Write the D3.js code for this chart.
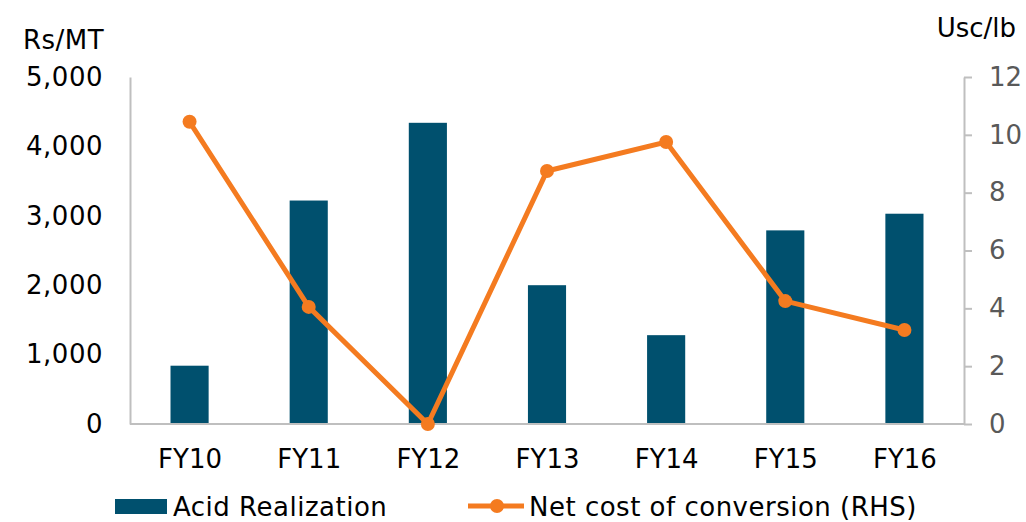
<!DOCTYPE html>
<html><head><meta charset="utf-8">
<script src="https://d3js.org/d3.v7.min.js"></script>
<style>body{margin:0;background:#fff;} svg{display:block;}</style>
</head><body>
<svg id="c" width="1026" height="522"></svg>
<script>
const categories = ["FY10","FY11","FY12","FY13","FY14","FY15","FY16"];
const acidRealization = [840, 3220, 4340, 2000, 1280, 2790, 3030];
const netCost = [10.45, 4.05, 0, 8.75, 9.75, 4.25, 3.25];
const leftTicks = [0, 1000, 2000, 3000, 4000, 5000];
const rightTicks = [0, 2, 4, 6, 8, 10, 12];

const svg = d3.select("#c");
const font = "'DejaVu Sans', Verdana, sans-serif";
const L = 130, R = 964, T = 77, B = 424;
const x = d3.scaleBand().domain(categories).range([L, R]).paddingInner(0.68).paddingOuter(0.34);
const xc = d3.scalePoint().domain(categories).range([L, R]).padding(0.5);
const yL = d3.scaleLinear().domain([0, 5000]).range([B, T]);
const yR = d3.scaleLinear().domain([0, 12]).range([B, T]);
const axisCol = "#BFBFBF";

// bars
svg.append("g").selectAll("rect").data(categories).join("rect")
  .attr("x", d => x(d)).attr("width", x.bandwidth())
  .attr("y", (d,i) => yL(acidRealization[i]))
  .attr("height", (d,i) => B - yL(acidRealization[i]))
  .attr("fill", "#00506E");

// left axis
const gl = svg.append("g").attr("transform", `translate(${L},0)`)
  .call(d3.axisLeft(yL).tickValues(leftTicks).tickSize(0).tickPadding(27).tickFormat(d3.format(",")));
gl.select(".domain").attr("stroke", axisCol).attr("stroke-width", 2);
gl.selectAll("text").attr("font-family", font).attr("font-size", 26).attr("letter-spacing", 0.5).attr("fill", "#000");

// right axis
const gr = svg.append("g").attr("transform", `translate(${R},0)`)
  .call(d3.axisRight(yR).tickValues(rightTicks).tickSize(8).tickSizeOuter(0).tickPadding(17));
gr.select(".domain").attr("stroke", axisCol).attr("stroke-width", 2);
gr.selectAll(".tick line").attr("stroke", axisCol).attr("stroke-width", 2);
gr.selectAll("text").attr("font-family", font).attr("font-size", 26).attr("fill", "#595959");

// bottom axis
const gb = svg.append("g").attr("transform", `translate(0,${B})`)
  .call(d3.axisBottom(xc).tickSize(0).tickPadding(26));
gb.select(".domain").attr("stroke", axisCol).attr("stroke-width", 2).attr("d", `M${L},0H${R}`);
gb.selectAll("text").attr("font-family", font).attr("font-size", 26).attr("fill", "#000");

// line
const orange = "#F47B20";
svg.append("path").datum(categories)
  .attr("d", d3.line().x(d => xc(d)).y((d,i) => yR(netCost[i])))
  .attr("fill", "none").attr("stroke", orange).attr("stroke-width", 5);
svg.append("g").selectAll("circle").data(categories).join("circle")
  .attr("cx", d => xc(d)).attr("cy", (d,i) => yR(netCost[i])).attr("r", 7)
  .attr("fill", orange);

// unit labels
svg.append("text").attr("x", 23).attr("y", 49).text("Rs/MT")
  .attr("font-family", font).attr("font-size", 26).attr("letter-spacing", 0.5).attr("fill", "#000");
svg.append("text").attr("x", 1016).attr("y", 37).attr("text-anchor", "end").text("Usc/lb")
  .attr("font-family", font).attr("font-size", 26).attr("fill", "#000");

// legend
svg.append("rect").attr("x", 115).attr("y", 499).attr("width", 52).attr("height", 15).attr("fill", "#00506E");
svg.append("text").attr("x", 173).attr("y", 516).text("Acid Realization")
  .attr("font-family", font).attr("font-size", 26).attr("letter-spacing", 0.5).attr("fill", "#000");
svg.append("line").attr("x1", 468).attr("x2", 524).attr("y1", 506).attr("y2", 506)
  .attr("stroke", orange).attr("stroke-width", 5);
svg.append("circle").attr("cx", 497).attr("cy", 506).attr("r", 7).attr("fill", orange);
svg.append("text").attr("x", 529).attr("y", 516).text("Net cost of conversion (RHS)")
  .attr("font-family", font).attr("font-size", 26).attr("letter-spacing", 0.5).attr("fill", "#000");
</script>
</body></html>
